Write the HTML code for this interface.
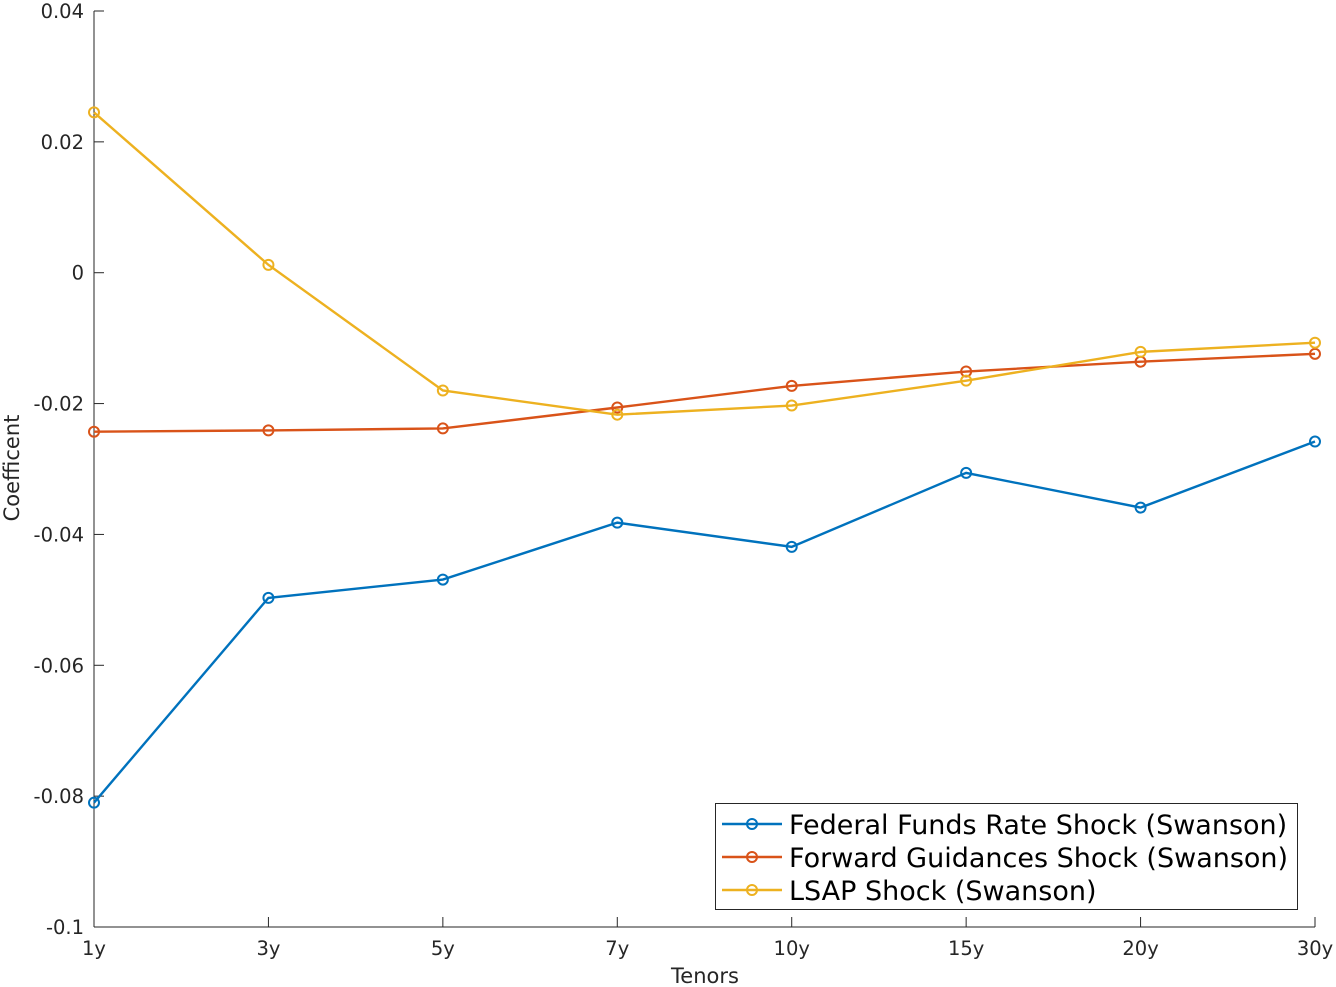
<!DOCTYPE html>
<html><head><meta charset="utf-8"><style>
html,body{margin:0;padding:0;background:#fff;}
svg{display:block;font-family:"DejaVu Sans","Liberation Sans",sans-serif;}
</style></head><body>
<svg id="chart" width="1336" height="987" xmlns="http://www.w3.org/2000/svg"></svg>
<script>
const categories = ["1y","3y","5y","7y","10y","15y","20y","30y"];
const ffrValues = [-0.0810,-0.0497,-0.0469,-0.0382,-0.0419,-0.0306,-0.0359,-0.0258];
const fgValues = [-0.0243,-0.0241,-0.0238,-0.0206,-0.0173,-0.0151,-0.0136,-0.0124];
const lsapValues = [0.0245,0.0012,-0.0180,-0.0217,-0.0203,-0.0165,-0.0121,-0.0107];
const yTicks = [0.04,0.02,0,-0.02,-0.04,-0.06,-0.08,-0.1];
const yTickLabels = ["0.04","0.02","0","-0.02","-0.04","-0.06","-0.08","-0.1"];
const seriesNames = ["Federal Funds Rate Shock (Swanson)","Forward Guidances Shock (Swanson)","LSAP Shock (Swanson)"];

const svg = document.getElementById('chart');
const NS = 'http://www.w3.org/2000/svg';
const X0 = 94, X1 = 1315, Y0 = 11, Y1 = 927, YMAX = 0.04, YMIN = -0.1;
function xs(i){ return X0 + (X1 - X0) * i / (categories.length - 1); }
function ys(v){ return Y0 + (YMAX - v) / (YMAX - YMIN) * (Y1 - Y0); }
function mk(tag, attrs, parent){ const e = document.createElementNS(NS, tag); for (const k in attrs) e.setAttribute(k, attrs[k]); (parent||svg).appendChild(e); return e; }

let ax = mk('line',{x1:X0,y1:Y0,x2:X0,y2:Y1,stroke:'#262626','stroke-width':1});


let bx = mk('line',{x1:X0,y1:Y1,x2:X1,y2:Y1,stroke:'#262626','stroke-width':1});



yTicks.forEach((v,i)=>{
  const y = ys(v);
  mk('line',{x1:X0,y1:y,x2:X0+10,y2:y,stroke:'#262626'});
  const t = mk('text',{x:84,y:y+7,'text-anchor':'end','font-size':19.5,fill:'#262626'});
  t.textContent = yTickLabels[i];
  
  
});
categories.forEach((c,i)=>{
  const x = xs(i);
  mk('line',{x1:x,y1:Y1,x2:x,y2:Y1-10,stroke:'#262626'});
  const t = mk('text',{x:x,y:955,'text-anchor':'middle','font-size':19.5,fill:'#262626'});
  t.textContent = c;
  
  
});
let xt = mk('text',{x:705,y:983,'text-anchor':'middle','font-size':21,fill:'#262626'});
xt.textContent = 'Tenors';


let yt = mk('text',{x:0,y:0,'text-anchor':'middle','font-size':21,fill:'#262626',transform:'translate(19,468) rotate(-90)'});
yt.textContent = 'Coefficent';



const colors = ['#0072bd','#d95319','#edb120'];
[ffrValues, fgValues, lsapValues].forEach((vals,s)=>{
  const g = mk('g',{});
  
  
  mk('polyline',{points:vals.map((v,i)=>xs(i)+','+ys(v)).join(' '),fill:'none',stroke:colors[s],'stroke-width':2.4},g);
  vals.forEach((v,i)=>{
    const c = mk('circle',{cx:xs(i),cy:ys(v),r:5,fill:'none',stroke:colors[s],'stroke-width':2},g);
    
    
  });
});

const lg = mk('g',{});


mk('rect',{x:715.5,y:803.5,width:582,height:106,fill:'#fff',stroke:'#262626','stroke-width':1},lg);
seriesNames.forEach((n,s)=>{
  const y = 824 + s*33;
  const e = mk('g',{},lg);
  
  
  mk('line',{x1:722,y1:y,x2:782,y2:y,stroke:colors[s],'stroke-width':2.4},e);
  mk('circle',{cx:752,cy:y,r:5,fill:'none',stroke:colors[s],'stroke-width':2},e);
  const t = mk('text',{x:789,y:y+10,'font-size':27,fill:'#000'},e);
  t.textContent = n;
});
</script>
</body></html>
